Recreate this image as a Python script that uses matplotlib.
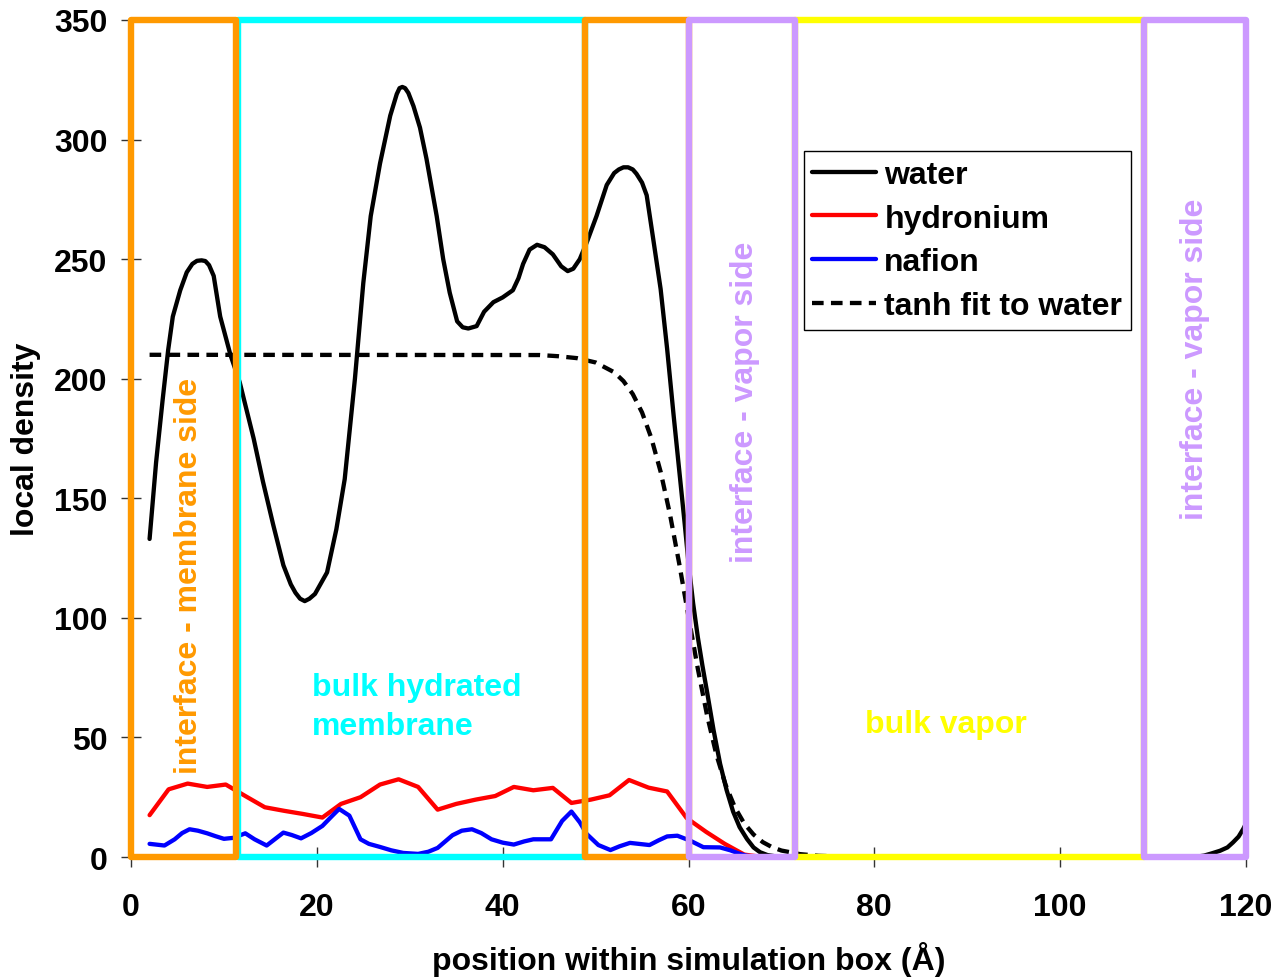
import matplotlib
import matplotlib.pyplot as plt
from matplotlib.patches import Rectangle

matplotlib.use('Agg')
plt.rcParams['font.family'] = ['Liberation Sans', 'DejaVu Sans']
plt.rcParams['font.weight'] = 'bold'
plt.rcParams['axes.labelweight'] = 'bold'

# values
water_x = [2.0, 2.7, 3.4, 4.0, 4.5, 5.3, 6.0, 6.6, 7.1, 7.6, 8.0, 8.4, 8.9, 9.6, 10.7,
           11.7, 13.2, 14.2, 15.3, 16.4, 17.2, 17.7, 18.2, 18.7, 19.2, 19.8, 21.1,
           22.1, 23.0, 24.1, 25.0, 25.8, 26.8, 27.9, 28.6, 28.9, 29.2, 29.5, 29.85,
           30.4, 31.1, 31.8, 32.9, 33.6, 34.3, 35.1, 35.7, 36.3, 37.2, 38.0, 39.0,
           40.0, 41.1, 41.7, 42.2, 42.9, 43.7, 44.5, 45.4, 46.3, 47.0, 47.6, 48.3,
           49.05, 50.1, 51.2, 52.0, 52.5, 53.0, 53.5, 54.0, 54.4, 55.0, 55.5, 56.2,
           57.0, 57.7, 58.4, 59.1, 59.6, 60.0, 60.5, 61.0, 61.5, 62.0, 62.7, 63.4,
           64.1, 64.8, 65.5, 66.3, 67.0, 67.7, 68.5, 69.5, 70.5, 114.5, 115.5, 116.3,
           117.2, 118.0, 118.6, 119.2, 119.7, 120.0]
water_y = [133, 165, 191, 212, 226, 237, 244.5, 248, 249.3, 249.5, 249.2, 247.5, 243, 226,
           210, 198.5, 175, 157, 139, 122, 114, 110.5, 108, 107, 108, 110, 119,
           137, 158, 200, 240, 268, 290, 310, 319, 321.5, 322, 321.5, 319.5,
           314, 305, 292, 268, 250, 236, 224, 221.5, 221, 222, 228, 232,
           234, 237, 242, 248, 254, 256, 255, 252, 247, 245, 246, 250,
           257, 268, 281, 286, 287.5, 288.4, 288.4, 287.5, 285.7, 282, 276.7, 258.5,
           237.5, 212.5, 184.6, 158, 139, 123, 106, 92, 80, 69, 53, 39,
           28, 19, 12.5, 7.5, 4, 2, 0.8, 0.2, 0, 0, 0.6, 1.5,
           2.6, 4, 6.1, 8.5, 11.7, 14]

hydronium_x = [2.0, 4.05, 6.1, 8.2, 10.2, 12.3, 14.4, 16.5, 18.5, 20.6, 22.6, 24.7,
               26.8, 28.8, 30.9, 33.0, 35.0, 37.1, 39.2, 41.2, 43.3, 45.4, 47.4,
               49.5, 51.5, 53.6, 55.7, 57.7, 59.8, 61.9, 63.9, 66.0, 68.0, 120.0]
hydronium_y = [17.5, 28.3, 30.7, 29.3, 30.3, 25.5, 20.8, 19.3, 18.0, 16.5, 22.2, 25.0,
               30.3, 32.5, 29.3, 19.8, 22.2, 24.0, 25.5, 29.3, 27.9, 28.9, 22.6,
               24.0, 25.8, 32.2, 29.0, 27.4, 16.3, 10.5, 5.5, 1.0, 0, 0]

nafion_x = [2.0, 3.6, 4.7, 5.5, 6.3, 7.2, 8.2, 9.1, 10.0, 11.0, 12.3, 13.3, 14.6,
            15.5, 16.4, 17.3, 18.3, 19.4, 20.6, 21.6, 22.4, 23.5, 24.7, 25.6, 26.8,
            28.0, 29.3, 30.9, 32.0, 33.0, 34.6, 35.6, 36.7, 37.7, 38.8, 40.0, 41.2,
            42.3, 43.3, 45.2, 46.4, 47.4, 48.3, 49.05, 50.3, 51.6, 52.6, 53.7, 55.8,
            56.8, 57.7, 58.8, 60.2, 61.6, 63.4, 64.5, 65.6, 66.3, 67.5, 120.0]
nafion_y = [5.5, 4.8, 7.4, 10, 11.6, 11, 9.9, 8.7, 7.6, 8, 9.9, 7.4, 4.8,
            7.5, 10.2, 9.2, 7.8, 10, 13, 17, 20.1, 17.3, 7.4, 5.5, 4.2,
            2.8, 1.7, 1.3, 2.2, 3.8, 9.1, 11, 11.6, 10, 7.4, 6, 5.2,
            6.5, 7.4, 7.4, 15.1, 19.0, 14.5, 9.6, 5, 2.9, 4.5, 5.9, 5.0,
            7, 8.6, 8.9, 6.8, 4.1, 4.0, 2.8, 1.2, 0.5, 0, 0]

tanh_x = [2, 44, 46, 48, 50, 52, 53, 54, 55, 56, 57, 58, 59, 60, 61, 62, 63, 64,
          65, 66, 67, 68, 69, 70, 72, 74, 77, 80, 120]
tanh_y = [210, 209.9, 209.4, 208.6, 206.8, 202.7, 199.0, 193.6, 185.9, 175.2, 161.1,
          143.4, 122.7, 100.5, 78.8, 59.2, 42.8, 30.1, 20.7, 14.0, 9.4, 6.2, 4.1,
          2.7, 1.2, 0.5, 0.14, 0.04, 0]

# regions: (start, end, colour) along the box
regions = [
    (11.5, 48.9, '#00FFFF'),
    (71.5, 109.0, '#FFFF00'),
    (0.0, 11.3, '#FF9900'),
    (48.9, 60.0, '#FF9900'),
    (60.0, 71.5, '#CC99FF'),
    (109.0, 120.0, '#CC99FF'),
]
region_labels = [
    ('interface - membrane side', 6.2, 118, 90, '#FF9900', 'center'),
    ('bulk hydrated\nmembrane', 19.5, 63, 0, '#00FFFF', 'left'),
    ('interface - vapor side', 66.1, 190.5, 90, '#CC99FF', 'center'),
    ('bulk vapor', 87.7, 55.6, 0, '#FFFF00', 'center'),
    ('interface - vapor side', 114.5, 208.7, 90, '#CC99FF', 'center'),
]

fs = 23

fig = plt.figure(figsize=(12.76, 9.78), dpi=100)
ax = fig.add_axes([131 / 1276, 1 - 858 / 978, 1115 / 1276, 837 / 978])

line_kw = dict(lw=3.1, solid_joinstyle='round', solid_capstyle='round', zorder=3)
ax.plot(water_x, water_y, color='black', label='water', **line_kw)
ax.plot(hydronium_x, hydronium_y, color='#FF0000', label='hydronium', **line_kw)
ax.plot(nafion_x, nafion_y, color='#0000FF', label='nafion', **line_kw)
ax.plot(tanh_x, tanh_y, color='black', lw=3.1, dashes=(2.7, 1.7),
        label='tanh fit to water', zorder=3)

for x0, x1, col in regions:
    ax.add_patch(Rectangle((x0, 0), x1 - x0, 350, fill=False, edgecolor=col,
                           lw=4.6, joinstyle='round', clip_on=False, zorder=4))

for txt, x, y, rot, col, ha in region_labels:
    ax.text(x, y, txt, rotation=rot, color=col, fontsize=fs, fontweight='bold',
            ha=ha, va='center', linespacing=1.42, zorder=5)

ax.set_xlim(0, 120)
ax.set_ylim(0, 350)
ax.set_xticks(range(0, 121, 20))
ax.set_yticks(range(0, 351, 50))
ax.tick_params(axis='both', direction='inout', length=14, width=1, color='#333333',
               labelsize=fs)
ax.tick_params(axis='y', pad=10)
ax.tick_params(axis='x', pad=18)
for s in ['top', 'right']:
    ax.spines[s].set_visible(False)

ax.set_xlabel('position within simulation box (Å)', fontsize=fs, labelpad=14)
ax.set_ylabel('local density', fontsize=fs, labelpad=9)

leg = ax.legend(loc='upper right', bbox_to_anchor=(0.897, 0.8435), borderaxespad=0,
                fontsize=fs, handlelength=2.0, handletextpad=0.25, labelspacing=0.43,
                borderpad=0.28, fancybox=False, edgecolor='black', framealpha=1)
leg.get_frame().set_linewidth(1)
leg.set_zorder(10)

fig.savefig('out.png', dpi=100)
